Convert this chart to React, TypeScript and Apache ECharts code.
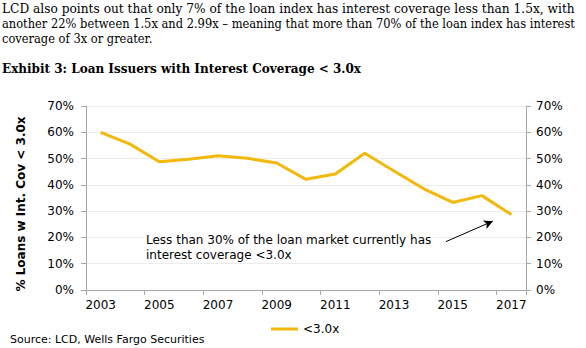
import React, { useEffect, useRef } from "react";
import * as echarts from "echarts";

const years = [2003, 2004, 2005, 2006, 2007, 2008, 2009, 2010, 2011, 2012, 2013, 2014, 2015, 2016, 2017];
const yearLabels = years.map(String);
const loansBelow3x = [60.0, 55.5, 48.8, 49.7, 51.1, 50.1, 48.3, 42.1, 44.1, 52.0, 45.3, 38.6, 33.3, 35.9, 28.7];
const seriesName = "<3.0x";
const introLines = [
  "LCD also points out that only 7% of the loan index has interest coverage less than 1.5x, with",
  "another 22% between 1.5x and 2.99x \u2013 meaning that more than 70% of the loan index has interest",
  "coverage of 3x or greater.",
];
const exhibitTitle = "Exhibit 3: Loan Issuers with Interest Coverage < 3.0x";
const yAxisTitle = "% Loans w Int. Cov < 3.0x";
const annotationLines = [
  "Less than 30% of the loan market currently has",
  "interest coverage <3.0x",
];
const sourceText = "Source: LCD, Wells Fargo Securities";

const LINE_COLOR = "#F2B80C";
const AXIS_COLOR = "#a6a6a6";
const SANS = "DejaVu Sans";
const SERIF = "DejaVu Serif";

function measure(text: string, font: string): number {
  const c = document.createElement("canvas").getContext("2d");
  if (!c) return 0;
  c.font = font;
  return c.measureText(text).width;
}

export default function App() {
  const ref = useRef<HTMLDivElement>(null);
  useEffect(() => {
    if (!ref.current) return;
    const chart = echarts.init(ref.current, null, { renderer: "svg" });
    const yAxisCommon = {
      type: "value",
      min: 0,
      max: 70,
      interval: 10,
      axisLine: { show: true, lineStyle: { color: AXIS_COLOR, width: 1 } },
      axisTick: { show: true, length: 5, lineStyle: { color: AXIS_COLOR } },
    };
    const bodyFont = `12.5px "${SERIF}"`;
    const titleFont = `bold 12.5px "${SERIF}"`;
    const fullWidth = 573;
    const introTops = [2, 17, 32];
    const w2 = measure(introLines[1], bodyFont);
    const naturalScale = w2 ? fullWidth / w2 : 1;
    const titleWidth = 359;
    const tw = measure(exhibitTitle, titleFont) || titleWidth;

    chart.setOption({
      animation: false,
      backgroundColor: "#ffffff",
      grid: { left: 86, right: 60, top: 106, bottom: 58, containLabel: false },
      xAxis: [
        { type: "value", min: 2002.5, max: 2017.5, show: false },
        {
          type: "category",
          data: yearLabels,
          boundaryGap: true,
          position: "bottom",
          axisLine: { show: true, lineStyle: { color: AXIS_COLOR } },
          axisTick: { show: true, interval: 1, length: 5, lineStyle: { color: AXIS_COLOR } },
          axisLabel: { interval: 1, color: "#000", fontFamily: SANS, fontSize: 12, margin: 9 },
          splitLine: { show: false },
        },
      ],
      yAxis: [
        {
          ...yAxisCommon,
          position: "left",
          splitLine: { show: true, lineStyle: { color: "#ececec", width: 1 } },
          axisLabel: { formatter: "{value}%", color: "#000", fontFamily: SANS, fontSize: 12, margin: 12 },
        },
        {
          ...yAxisCommon,
          position: "right",
          splitLine: { show: false },
          axisLabel: { formatter: "{value}%", color: "#000", fontFamily: SANS, fontSize: 12, margin: 10 },
        },
      ],
      legend: {
        data: [seriesName],
        top: 318,
        left: 266,
        icon: "rect",
        itemWidth: 27,
        itemHeight: 3,
        textStyle: { color: "#000", fontFamily: SANS, fontSize: 12 },
      },
      series: [
        {
          name: seriesName,
          type: "line",
          xAxisIndex: 0,
          yAxisIndex: 0,
          data: years.map((y, i) => [y, loansBelow3x[i]]),
          showSymbol: false,
          symbol: "none",
          color: LINE_COLOR,
          lineStyle: { color: LINE_COLOR, width: 3 },
          z: 3,
          markLine: {
            silent: true,
            symbol: ["none", "arrow"],
            symbolSize: [7, 9],
            label: { show: false },
            lineStyle: { color: "#000", width: 1, type: "solid" },
            data: [[{ coord: [2014.77, 18.4] }, { coord: [2016.37, 26.2] }]],
          },
        },
      ],
      graphic: [
        ...introLines.map((t, i) => {
          const w = measure(t, bodyFont);
          const sx = i === 0 && w ? fullWidth / w : naturalScale;
          return {
            type: "text",
            x: 2,
            y: introTops[i],
            scaleX: sx,
            style: { text: t, fill: "#000", font: bodyFont, verticalAlign: "top" },
          };
        }),
        {
          type: "text",
          x: 2,
          y: 62,
          scaleX: titleWidth / tw,
          style: { text: exhibitTitle, fill: "#000", font: titleFont, verticalAlign: "top" },
        },
        {
          type: "text",
          x: 21,
          y: 204,
          rotation: Math.PI / 2,
          style: {
            text: yAxisTitle,
            fill: "#000",
            font: `bold 12px "${SANS}"`,
            align: "center",
            verticalAlign: "middle",
          },
        },
        {
          type: "text",
          left: 144,
          top: 232,
          z: 10,
          style: {
            text: annotationLines.join("\n"),
            fill: "#000",
            font: `12px "${SANS}"`,
            lineHeight: 14.5,
            backgroundColor: "#fff",
            padding: [1, 2, 1, 2],
          },
        },
        {
          type: "text",
          left: 10,
          top: 334,
          style: { text: sourceText, fill: "#000", font: `11px "${SANS}"` },
        },
      ],
    });
    return () => chart.dispose();
  }, []);
  return (
    <div style={{ position: "fixed", left: 0, top: 0, width: 586, height: 348, background: "#fff" }}>
      <div ref={ref} style={{ width: 586, height: 348 }} />
    </div>
  );
}
